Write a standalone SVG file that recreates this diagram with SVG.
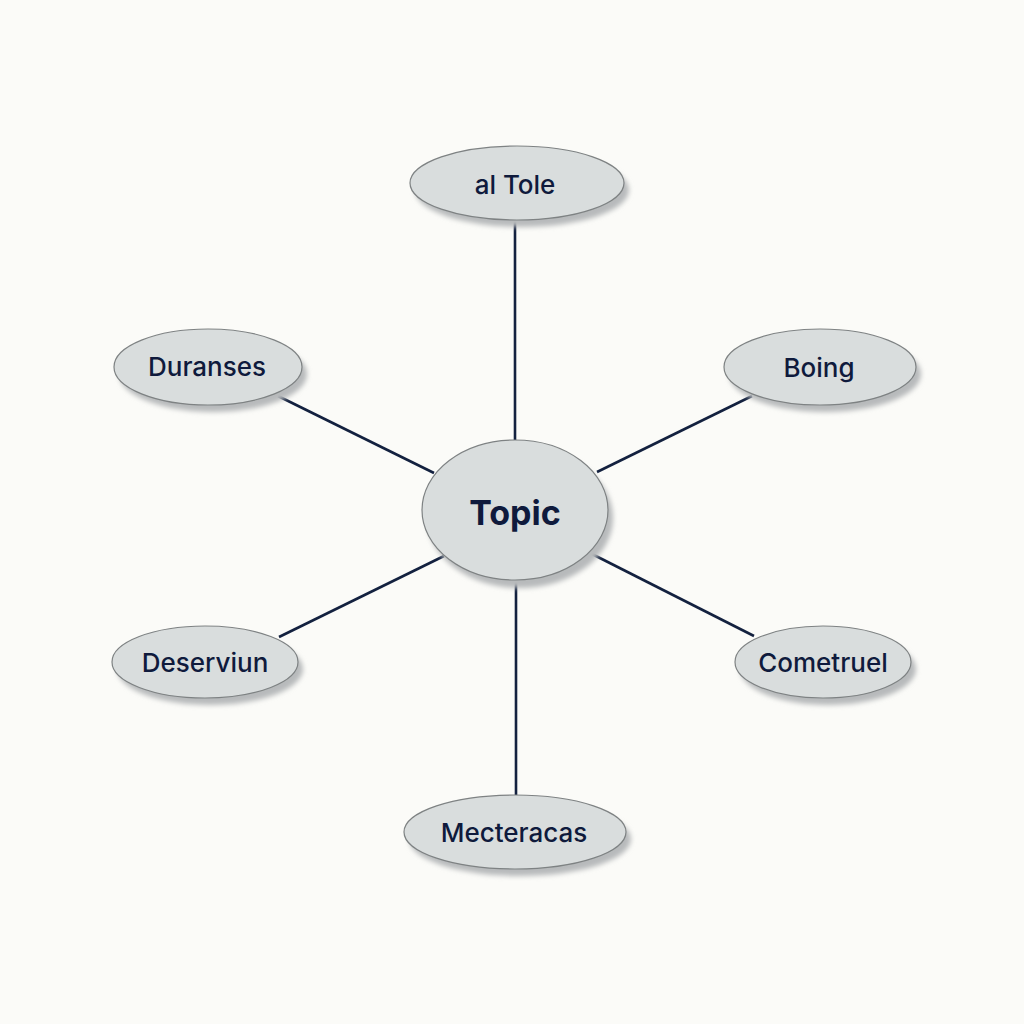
<svg xmlns="http://www.w3.org/2000/svg" width="1024" height="1024" viewBox="0 0 1024 1024">
<defs>
<filter id="sh" x="-20%" y="-20%" width="140%" height="150%">
<feGaussianBlur stdDeviation="2.5"/>
</filter>
</defs>
<style>
.bg{fill:#fbfbf8}
.shadow{fill:#b7babb;filter:url(#sh)}
.node{fill:#d9dddd;stroke:#7e8283;stroke-width:1.2}
.lbl{font-family:Inter,"Liberation Sans",sans-serif;font-size:26px;font-weight:500;fill:#0f1a3c;text-anchor:middle;dominant-baseline:central}
.main{font-size:34px;font-weight:700}
.edge{stroke:#13213f;stroke-width:2.6;fill:none}
</style>
<rect class="bg" width="1024" height="1024"/>
<g id="connectors">
<line class="edge" x1="515" y1="221" x2="515" y2="441"/>
<line class="edge" x1="278" y1="396" x2="434" y2="473"/>
<line class="edge" x1="752" y1="396" x2="597" y2="472"/>
<line class="edge" x1="279" y1="637" x2="444" y2="556"/>
<line class="edge" x1="754" y1="636" x2="590" y2="553"/>
<line class="edge" x1="516" y1="580" x2="516" y2="795"/>
</g>
<g id="node-top">
<ellipse class="shadow" cx="522" cy="190" rx="107" ry="37"/>
<ellipse class="node" cx="517" cy="183" rx="107" ry="37"/>
<text class="lbl" x="515" y="184">al Tole</text>
</g>
<g id="node-duranses">
<ellipse class="shadow" cx="213" cy="374" rx="94" ry="38"/>
<ellipse class="node" cx="208" cy="367" rx="94" ry="38"/>
<text class="lbl" x="207" y="366">Duranses</text>
</g>
<g id="node-boing">
<ellipse class="shadow" cx="825" cy="374" rx="96" ry="38"/>
<ellipse class="node" cx="820" cy="367" rx="96" ry="38"/>
<text class="lbl" x="819" y="367">Boing</text>
</g>
<g id="node-topic">
<ellipse class="shadow" cx="520" cy="518" rx="93" ry="70"/>
<ellipse class="node" cx="515" cy="510" rx="93" ry="70"/>
<text class="lbl main" x="515" y="512">Topic</text>
</g>
<g id="node-deserviun">
<ellipse class="shadow" cx="210" cy="669" rx="93" ry="36"/>
<ellipse class="node" cx="205" cy="662" rx="93" ry="36"/>
<text class="lbl" x="205" y="662">Deserviun</text>
</g>
<g id="node-cometruel">
<ellipse class="shadow" cx="828" cy="669" rx="88" ry="36"/>
<ellipse class="node" cx="823" cy="662" rx="88" ry="36"/>
<text class="lbl" x="823" y="662">Cometruel</text>
</g>
<g id="node-mecteracas">
<ellipse class="shadow" cx="520" cy="839" rx="111" ry="37"/>
<ellipse class="node" cx="515" cy="832" rx="111" ry="37"/>
<text class="lbl" x="514" y="832">Mecteracas</text>
</g>
</svg>
